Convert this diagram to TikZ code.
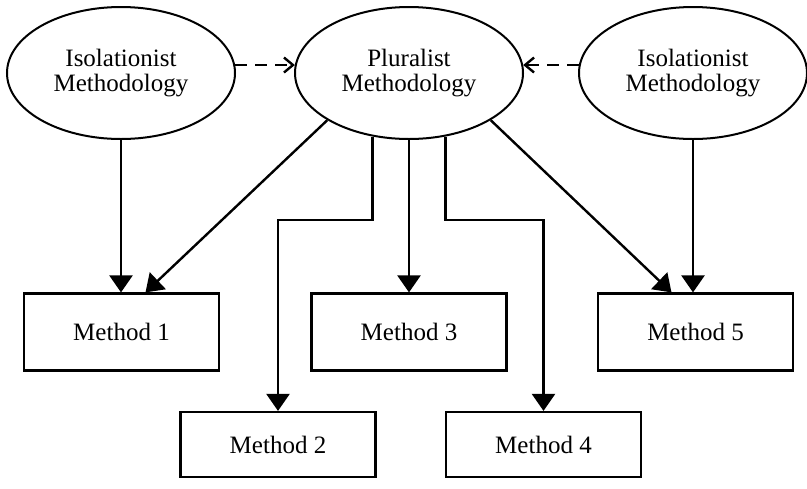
\documentclass[tikz,border=0pt]{standalone}
\usepackage{fontspec}
\setmainfont{Liberation Serif}
\usetikzlibrary{positioning, arrows.meta, shapes.geometric}

\begin{document}
\begin{tikzpicture}[x=0.5pt, y=-0.5pt, font=\fontsize{12.5}{12.5}\selectfont,
    method/.style={ellipse, draw, line width=1pt, minimum width=114pt,
                   minimum height=66pt, inner sep=0pt, align=center},
    mbox/.style={draw, line width=1.1pt, minimum width=97.5pt, align=center},
    feed/.style={-{Triangle[width=11.5pt, length=8.5pt]}, line width=1.2pt},
    link/.style={-{Straight Barb[length=4.5pt, width=7.5pt]}, line width=1.2pt,
                 dash pattern=on 6pt off 4pt}]
        \useasboundingbox (0,0) rectangle (807,488);
        % Methodologies
        \node[method] (isoL) at (121,73) {Isolationist\\Methodology};
        \node[method] (plural) at (409,73) {Pluralist\\Methodology};
        \node[method] (isoR) at (693,73) {Isolationist\\Methodology};
        % Upper methods
        \node[mbox, minimum height=38.5pt] (m1) at (121.5,332) {Method 1};
        \node[mbox, minimum height=38.5pt] (m3) at (409,332) {Method 3};
        \node[mbox, minimum height=38.5pt] (m5) at (695.5,332) {Method 5};
        % Lower methods
        \node[mbox, minimum height=32.5pt] (m2) at (278,444.5) {Method 2};
        \node[mbox, minimum height=32.5pt] (m4) at (543.5,444.5) {Method 4};
        \coordinate (bend) at (0,220);
        \draw[link] (isoL.4) -- (plural.176);
        \draw[link] (isoR.176) -- (plural.4);
        \draw[feed] (isoL.south) -- (isoL.south |- m1.north);
        \draw[feed] (plural.210) -- ([xshift=12pt]m1.north);
        \draw[feed] (plural.240) -- (plural.240 |- bend) -| (m2.north);
        \draw[feed] (plural.south) -- (m3.north);
        \draw[feed] (plural.300) -- (plural.300 |- bend) -| (m4.north);
        \draw[feed] (plural.330) -- ([xshift=-12pt]m5.north);
        \draw[feed] (isoR.south) -- (isoR.south |- m5.north);
      \end{tikzpicture}
\end{document}
